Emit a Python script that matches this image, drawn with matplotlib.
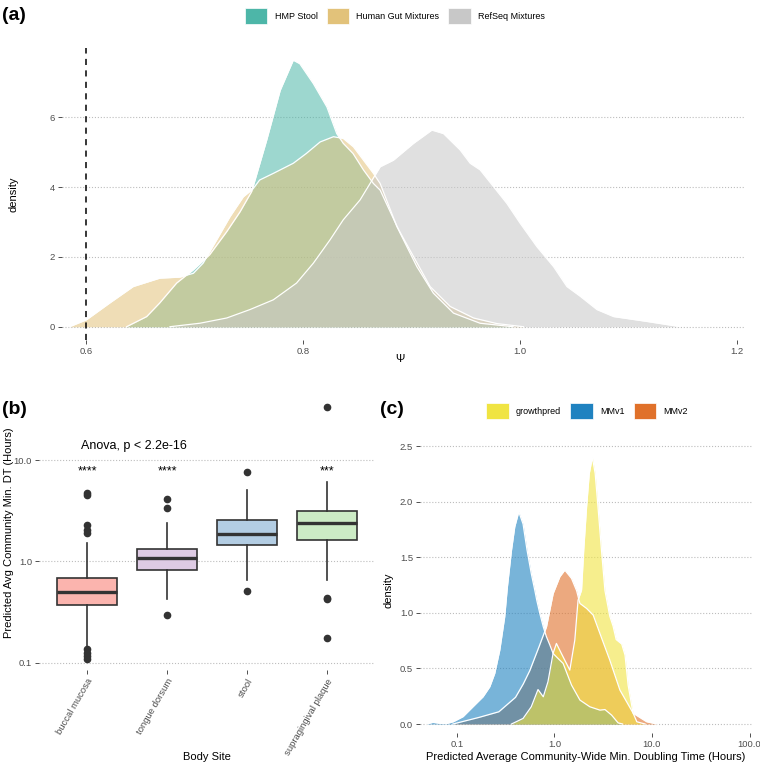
import matplotlib
matplotlib.use('Agg')
import matplotlib.pyplot as plt
from matplotlib.patches import Patch
from matplotlib.ticker import NullLocator

plt.rcParams['font.family'] = ['Liberation Sans', 'DejaVu Sans']

# ---- panel (a): density of Psi ----
psi_names = ['HMP Stool', 'Human Gut Mixtures', 'RefSeq Mixtures']
psi_colors = ['#4DB6A8', '#E2C27A', '#C8C8C8']

hmp_x = [0.6375, 0.656, 0.668, 0.6836, 0.699, 0.714, 0.7297, 0.742, 0.7527, 0.7665, 0.779,
         0.791, 0.797, 0.8095, 0.822, 0.831, 0.837, 0.846, 0.8556, 0.8648, 0.871, 0.8894,
         0.9048, 0.92, 0.9385, 0.963, 0.9935]
hmp_y = [0.0, 0.29, 0.68, 1.25, 1.63, 2.06, 2.72, 3.29, 3.87, 5.34, 6.77,
         7.63, 7.53, 6.96, 6.29, 5.53, 5.25, 4.96, 4.49, 4.1, 3.91, 2.68,
         1.72, 0.96, 0.39, 0.1, 0.0]

gut_x = [0.585, 0.6006, 0.622, 0.6436, 0.668, 0.6866, 0.699, 0.708, 0.7205, 0.7327, 0.745,
         0.754, 0.76, 0.7726, 0.791, 0.803, 0.8157, 0.828, 0.837, 0.8464, 0.8556, 0.8648,
         0.871, 0.8864, 0.9017, 0.917, 0.9355, 0.957, 0.9785, 1.003]
gut_y = [0.0, 0.2, 0.68, 1.15, 1.39, 1.42, 1.53, 1.82, 2.49, 3.15, 3.72,
         3.95, 4.2, 4.39, 4.68, 4.96, 5.29, 5.44, 5.39, 5.15, 4.77, 4.39,
         4.1, 2.87, 2.01, 1.15, 0.58, 0.25, 0.09, 0.0]

refseq_x = [0.6774, 0.705, 0.7297, 0.751, 0.7726, 0.794, 0.8095, 0.8249, 0.837, 0.8525, 0.8617,
            0.871, 0.8833, 0.9017, 0.9186, 0.9293, 0.9447, 0.9539, 0.9631, 0.9754, 0.9877,
            1.0, 1.0154, 1.0307, 1.043, 1.0553, 1.0707, 1.086, 1.1168, 1.1475]
refseq_y = [0.0, 0.1, 0.25, 0.49, 0.77, 1.25, 1.82, 2.49, 3.06, 3.63, 4.1,
            4.58, 4.77, 5.25, 5.63, 5.53, 5.06, 4.68, 4.49, 4.01, 3.53,
            2.96, 2.29, 1.72, 1.15, 0.87, 0.49, 0.29, 0.15, 0.0]

# ---- panel (b): doubling time by body site ----
sites = ['buccal mucosa', 'tongue dorsum', 'stool', 'supragingival plaque']
site_colors = ['#FBB4AE', '#DECBE4', '#B3CDE3', '#CCEBC5']
whis_lo = [0.146, 0.43, 0.66, 0.65]
q1 = [0.372, 0.83, 1.44, 1.63]
median = [0.495, 1.08, 1.86, 2.42]
q3 = [0.687, 1.33, 2.55, 3.17]
whis_hi = [1.53, 2.39, 5.07, 6.1]
outliers = [[0.11, 0.116, 0.126, 0.137, 1.9, 2.04, 2.3, 4.5, 4.7],
            [0.295, 3.35, 4.1],
            [0.51, 7.6],
            [0.177, 0.427, 0.436, 33.5]]
stars = ['****', '****', '', '***']

# ---- panel (c): community-wide doubling time ----
dt_names = ['growthpred', 'MMv1', 'MMv2']
dt_colors = ['#F0E442', '#1F82C0', '#E0712A']

mmv2_x = [0.0916, 0.17, 0.27, 0.4, 0.48, 0.56, 0.7, 0.831, 0.973, 1.138, 1.28, 1.5, 1.69,
          1.79, 1.83, 2.14, 2.5, 2.93, 3.7, 4.7, 6.43, 8.83, 11.2]
mmv2_y = [0.0, 0.06, 0.11, 0.24, 0.36, 0.48, 0.7, 0.875, 1.175, 1.325, 1.385, 1.31, 1.2,
          1.115, 1.085, 1.04, 0.98, 0.815, 0.575, 0.305, 0.096, 0.02, 0.0]

mmv1_x = [0.049, 0.057, 0.067, 0.078, 0.092, 0.116, 0.147, 0.186, 0.218, 0.245, 0.276, 0.31,
          0.33, 0.364, 0.393, 0.432, 0.478, 0.525, 0.58, 0.63, 0.66, 0.71, 0.77, 0.83, 0.9,
          0.97, 1.09, 1.23, 1.5, 1.83, 2.31, 2.93, 3.3, 3.86, 4.5, 5.0]
mmv1_y = [0.0, 0.015, 0.006, 0.003, 0.02, 0.066, 0.156, 0.245, 0.335, 0.455, 0.665, 0.965,
          1.23, 1.565, 1.775, 1.91, 1.8, 1.565, 1.355, 1.205, 1.115, 0.995, 0.875, 0.785, 0.71,
          0.635, 0.59, 0.545, 0.35, 0.215, 0.155, 0.125, 0.13, 0.08, 0.01, 0.0]

growth_x = [0.364, 0.478, 0.58, 0.68, 0.77, 0.86, 0.97, 1.05, 1.18, 1.44, 1.62, 1.75, 1.9, 2.0,
            2.14, 2.28, 2.45, 2.62, 2.8, 3.04, 3.3, 3.7, 4.0, 4.3, 4.9, 5.3, 5.7, 6.4, 7.0, 8.5]
growth_y = [0.0, 0.05, 0.155, 0.31, 0.245, 0.38, 0.635, 0.725, 0.635, 0.485, 0.755, 1.115, 1.205,
            1.565, 1.955, 2.255, 2.4, 2.255, 1.955, 1.565, 1.2, 0.97, 0.88, 0.76, 0.72, 0.62,
            0.35, 0.1, 0.02, 0.0]

W, H = 760.0, 765.0


def style_axis(ax):
    for s in ax.spines.values():
        s.set_visible(False)
    ax.tick_params(length=3, width=0.6, color='#333333', labelcolor='#4D4D4D',
                   labelsize=6.8, pad=2)
    ax.grid(axis='y', linestyle=':', color='#BDBDBD', linewidth=0.8)
    ax.set_axisbelow(True)


def put_labels(ax, xpos, ypos):
    # centre the axis titles on given pixel positions of the figure
    ax.xaxis.label.set_va('center')
    ax.yaxis.label.set_va('center')
    ax.xaxis.set_label_coords(xpos[0] / W, 1 - xpos[1] / H, transform=fig.transFigure)
    ax.yaxis.set_label_coords(ypos[0] / W, 1 - ypos[1] / H, transform=fig.transFigure)


fig = plt.figure(figsize=(7.6, 7.65), dpi=100)

# (a)
ax_a = fig.add_axes([62 / W, 1 - 340 / H, 683 / W, 292 / H])
style_axis(ax_a)
for xs, ys, c in zip([hmp_x, gut_x, refseq_x], [hmp_y, gut_y, refseq_y], psi_colors):
    ax_a.fill_between(xs, ys, color=c, alpha=0.55, linewidth=0)
    ax_a.plot(xs, ys, color='white', lw=0.9)
ax_a.axvline(0.6, color='black', lw=1.1, ls=(0, (4, 3.5)))
ax_a.set_xlim(0.578, 1.207)
ax_a.set_ylim(-0.38, 7.98)
ax_a.set_xticks([0.6, 0.8, 1.0, 1.2])
ax_a.set_xticklabels(['0.6', '0.8', '1.0', '1.2'])
ax_a.set_yticks([0, 2, 4, 6])
ax_a.set_ylabel('density', fontsize=8)
ax_a.set_xlabel('Ψ', fontsize=8)
put_labels(ax_a, (400, 359), (14, 194))
fig.legend([Patch(facecolor=c, edgecolor='white', lw=0.5) for c in psi_colors], psi_names,
           loc='center', bbox_to_anchor=(395 / W, 1 - 16 / H), ncol=3, frameon=False,
           fontsize=6.5, handlelength=2.5, handleheight=2.5, handletextpad=0.8,
           columnspacing=1.0)
fig.text(0.002, 1 - 15 / H, '(a)', fontsize=14, fontweight='bold', va='center', ha='left')

# (b)
ax_b = fig.add_axes([39 / W, 1 - 670 / H, 336 / W, 272 / H])
style_axis(ax_b)
ax_b.set_yscale('log')
stats = []
for i in range(len(sites)):
    stats.append(dict(med=median[i], q1=q1[i], q3=q3[i], whislo=whis_lo[i],
                      whishi=whis_hi[i], fliers=outliers[i], label=sites[i]))
pos = list(range(1, len(sites) + 1))
bp = ax_b.bxp(stats, positions=pos, widths=0.75, patch_artist=True, showcaps=False,
              boxprops=dict(linewidth=1.2, edgecolor='#333333'),
              whiskerprops=dict(color='#333333', linewidth=1.2),
              medianprops=dict(color='#333333', linewidth=2.4),
              flierprops=dict(marker='o', markerfacecolor='#333333', markeredgecolor='#333333',
                              markersize=4.5))
for box, c in zip(bp['boxes'], site_colors):
    box.set_facecolor(c)
for p, s in zip(pos, stars):
    if s:
        ax_b.text(p, 7.7, s, ha='center', va='center', fontsize=9)
ax_b.text(0.93, 13.7, 'Anova, p < 2.2e-16', ha='left', va='center', fontsize=9)
ax_b.set_xlim(0.4, 4.6)
ax_b.set_ylim(0.085, 41)
ax_b.set_yticks([0.1, 1, 10])
ax_b.set_yticklabels(['0.1', '1.0', '10.0'])
ax_b.yaxis.set_minor_locator(NullLocator())
ax_b.set_xticks(pos)
ax_b.set_xticklabels(sites, rotation=60, ha='right', rotation_mode='anchor')
ax_b.set_xlabel('Body Site', fontsize=8)
ax_b.set_ylabel('Predicted Avg Community Min. DT (Hours)', fontsize=8)
put_labels(ax_b, (207, 757), (9, 533))
fig.text(0.002, 1 - 409 / H, '(b)', fontsize=14, fontweight='bold', va='center', ha='left')

# (c)
ax_c = fig.add_axes([420 / W, 1 - 733 / H, 332 / W, 289 / H])
style_axis(ax_c)
ax_c.set_xscale('log')
# drawn MMv2 first, growthpred on top
for xs, ys, c in zip([mmv2_x, mmv1_x, growth_x], [mmv2_y, mmv1_y, growth_y], dt_colors[::-1]):
    ax_c.fill_between(xs, ys, color=c, alpha=0.6, linewidth=0)
    ax_c.plot(xs, ys, color='white', lw=0.9)
ax_c.set_xlim(0.042, 106)
ax_c.set_ylim(-0.081, 2.52)
ax_c.set_xticks([0.1, 1, 10, 100])
ax_c.set_xticklabels(['0.1', '1.0', '10.0', '100.0'])
ax_c.xaxis.set_minor_locator(NullLocator())
ax_c.set_yticks([0, 0.5, 1.0, 1.5, 2.0, 2.5])
ax_c.set_yticklabels(['0.0', '0.5', '1.0', '1.5', '2.0', '2.5'])
ax_c.set_ylabel('density', fontsize=8)
ax_c.set_xlabel('Predicted Average Community-Wide Min. Doubling Time (Hours)', fontsize=8)
put_labels(ax_c, (586, 757), (389, 590))
fig.legend([Patch(facecolor=c, edgecolor='white', lw=0.5) for c in dt_colors], dt_names,
           loc='center', bbox_to_anchor=(587 / W, 1 - 411 / H), ncol=3, frameon=False,
           fontsize=6.5, handlelength=2.5, handleheight=2.5, handletextpad=0.8,
           columnspacing=1.0)
fig.text(380 / W, 1 - 410 / H, '(c)', fontsize=14, fontweight='bold', va='center', ha='left')

fig.savefig('out.png', dpi=100)
